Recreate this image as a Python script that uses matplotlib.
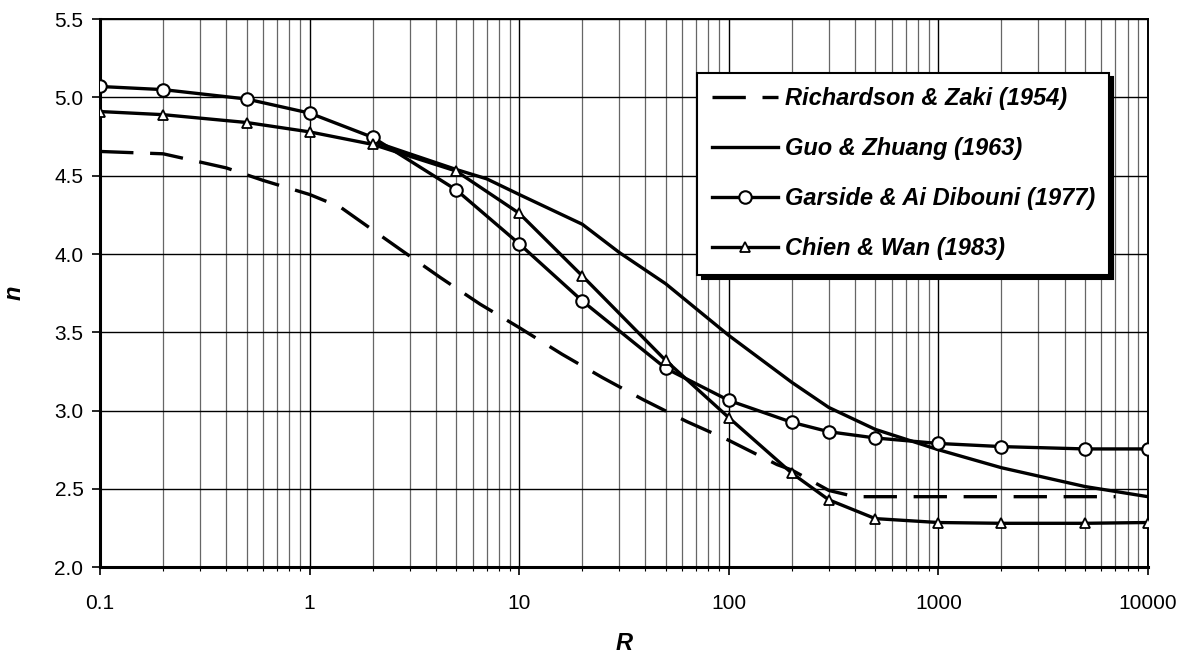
import matplotlib
matplotlib.use("Agg")
import matplotlib.pyplot as plt
import matplotlib.ticker as mticker

# ── DATA ──────────────────────────────────────────────────────────────────────

rz_R = [0.1, 0.2, 0.4, 0.6, 1, 1.4, 1.7, 2.7, 4.2, 6.5, 10, 16, 25, 39, 63,
        100, 170, 200, 300, 400, 7000]
rz_n = [4.655, 4.64, 4.55, 4.47, 4.38, 4.30, 4.22, 4.03, 3.85, 3.68, 3.53,
        3.36, 3.21, 3.07, 2.93, 2.81, 2.655, 2.62, 2.49, 2.45, 2.45]

guo_R = [2, 3, 5, 7, 10, 20, 30, 50, 100, 200, 300, 500, 1000, 2000, 5000, 10000]
guo_n = [4.72, 4.64, 4.54, 4.48, 4.38, 4.19, 4.01, 3.81, 3.48, 3.18, 3.02,
         2.88, 2.75, 2.635, 2.515, 2.45]

pt_R = [0.1, 0.2, 0.5, 1, 2, 5, 10, 20, 50, 100, 200, 300, 500, 1000, 2000,
        5000, 10000]
garside_n = [5.07, 5.05, 4.99, 4.90, 4.745, 4.41, 4.065, 3.70, 3.27, 3.065,
             2.925, 2.865, 2.825, 2.79, 2.77, 2.755, 2.755]
chien_n = [4.91, 4.89, 4.84, 4.78, 4.70, 4.53, 4.26, 3.86, 3.32, 2.955, 2.60,
           2.43, 2.31, 2.285, 2.28, 2.28, 2.285]

x_ticks = [0.1, 1, 10, 100, 1000, 10000]
x_labels = ["0.1", "1", "10", "100", "1000", "10000"]
y_ticks = [2.0, 2.5, 3.0, 3.5, 4.0, 4.5, 5.0, 5.5]

# ── STYLE ─────────────────────────────────────────────────────────────────────

plt.rcParams["font.family"] = ["Liberation Sans", "DejaVu Sans"]

fig = plt.figure(figsize=(11.92, 6.61), dpi=100)
ax = fig.add_axes([0.084, 0.142, 0.879, 0.829])

ax.set_xscale("log")
ax.set_xlim(0.1, 10000)
ax.set_ylim(2.0, 5.5)

# grid
ax.xaxis.set_minor_locator(mticker.LogLocator(base=10, subs=range(2, 10)))
ax.xaxis.set_minor_formatter(mticker.NullFormatter())
ax.grid(which="major", axis="both", color="black", linewidth=1.0)
ax.grid(which="minor", axis="x", color="0.4", linewidth=0.9)
ax.set_axisbelow(True)

lw = 2.4
ax.plot(rz_R, rz_n, color="black", linewidth=lw, linestyle=(0, (10, 5)),
        label="Richardson & Zaki (1954)", zorder=3)
ax.plot(guo_R, guo_n, color="black", linewidth=lw,
        label="Guo & Zhuang (1963)", zorder=3)
ax.plot(pt_R, garside_n, color="black", linewidth=lw, marker="o",
        markersize=9, markerfacecolor="white", markeredgecolor="black",
        markeredgewidth=1.5, label="Garside & Ai Dibouni (1977)", zorder=4)
ax.plot(pt_R, chien_n, color="black", linewidth=lw, marker="^",
        markersize=7.5, markerfacecolor="white", markeredgecolor="black",
        markeredgewidth=1.3, label="Chien & Wan (1983)", zorder=4)

ax.set_xticks(x_ticks)
ax.set_xticklabels(x_labels)
ax.set_yticks(y_ticks)
ax.yaxis.set_major_formatter(mticker.FormatStrFormatter("%.1f"))
ax.tick_params(which="major", direction="out", length=6, width=1.2,
               labelsize=15, pad=6)
ax.tick_params(which="minor", direction="out", length=3, width=0.8)
ax.tick_params(axis="x", pad=13)

for side in ["left", "bottom"]:
    ax.spines[side].set_linewidth(2.2)
for side in ["top", "right"]:
    ax.spines[side].set_linewidth(1.4)

ax.set_xlabel("R", fontsize=17, fontweight="bold", fontstyle="italic")
ax.set_ylabel("n", fontsize=17, fontweight="bold", fontstyle="italic")
ax.xaxis.set_label_coords(0.5, -0.118)
ax.yaxis.set_label_coords(-0.071, 0.5)

leg = ax.legend(loc="upper left", bbox_to_anchor=(0.570, 0.902),
                prop={"size": 17, "weight": "bold", "style": "italic"},
                frameon=True, fancybox=False, handlelength=2.8,
                handletextpad=0.3, labelspacing=1.15, borderpad=0.6,
                borderaxespad=0,
                shadow={"color": "black", "alpha": 1, "ox": 3, "oy": -3})
leg.get_frame().set_edgecolor("black")
leg.get_frame().set_linewidth(1.5)
leg.set_zorder(10)

fig.savefig("out.png", dpi=100)
